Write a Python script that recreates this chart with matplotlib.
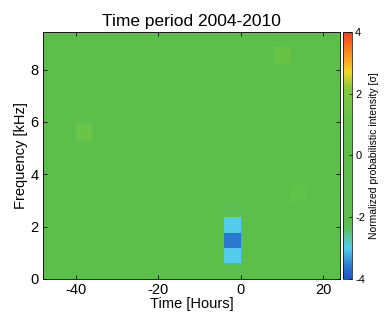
import numpy as np
import matplotlib
matplotlib.use("Agg")
import matplotlib.pyplot as plt
from matplotlib.colors import LinearSegmentedColormap

plt.rcParams['font.family'] = ['Liberation Sans', 'DejaVu Sans']
plt.rcParams['axes.unicode_minus'] = False

# Bin edges
time_edges = np.arange(-48, 25, 4)          # hours, 18 bins
freq_edges = np.linspace(0, 9.44, 17)       # kHz, 16 bins

# Normalized probabilistic intensity [sigma]; rows = frequency bins (bottom->top),
# columns = time bins (-48 .. 24 h)
intensity = np.array([
    # -48 -44 -40 -36 -32 -28 -24 -20 -16 -12  -8  -4   0   4   8  12  16  20
    [0.0, 0.0, 0.0, 0.0, 0.0, 0.0, 0.0, 0.0, 0.0, 0.0, 0.0, 0.0, 0.0, 0.0, 0.0, 0.0, 0.0, 0.0],
    [0.0, 0.0, 0.0, 0.0, 0.0, 0.0, 0.0, 0.0, 0.0, 0.0, 0.0, -3.0, 0.0, 0.0, 0.0, 0.0, 0.0, 0.0],
    [0.0, 0.0, 0.0, 0.0, 0.0, 0.0, 0.0, 0.0, 0.0, 0.0, 0.0, -3.6, 0.0, 0.0, 0.0, 0.0, 0.0, 0.0],
    [0.0, 0.0, 0.0, 0.0, 0.0, 0.0, 0.0, 0.0, 0.0, 0.0, 0.0, -3.0, 0.0, 0.0, 0.0, 0.0, 0.0, 0.0],
    [0.0, 0.0, 0.0, 0.0, 0.0, 0.0, 0.0, 0.0, 0.0, 0.0, 0.0, -2.2, 0.0, 0.0, 0.0, 0.0, 0.0, 0.0],
    [0.0, 0.0, 0.0, 0.0, 0.0, 0.0, 0.0, 0.0, 0.0, 0.0, 0.0, 0.0, 0.0, 0.0, 0.0, 0.6, 0.0, 0.0],
    [0.0, 0.0, 0.0, 0.0, 0.0, 0.0, 0.0, 0.0, 0.0, 0.0, 0.0, 0.0, 0.0, 0.0, 0.0, 0.0, 0.0, 0.0],
    [0.0, 0.0, 0.0, 0.0, 0.0, 0.0, 0.0, 0.0, 0.0, 0.0, 0.0, 0.0, 0.0, 0.0, 0.0, 0.0, 0.0, 0.0],
    [0.0, 0.0, 0.0, 0.0, 0.0, 0.0, 0.0, 0.0, 0.0, 0.0, 0.0, 0.0, 0.0, 0.0, 0.0, 0.0, 0.0, 0.0],
    [0.0, 0.0, 1.3, 0.0, 0.0, 0.0, 0.0, 0.0, 0.0, 0.0, 0.0, 0.0, 0.0, 0.0, 0.0, 0.0, 0.0, 0.0],
    [0.0, 0.0, 0.0, 0.0, 0.0, 0.0, 0.0, 0.0, 0.0, 0.0, 0.0, 0.0, 0.0, 0.0, 0.0, 0.0, 0.0, 0.0],
    [0.0, 0.0, 0.0, 0.0, 0.0, 0.0, 0.0, 0.0, 0.0, 0.0, 0.0, 0.0, 0.0, 0.0, 0.0, 0.0, 0.0, 0.0],
    [0.0, 0.0, 0.0, 0.0, 0.0, 0.0, 0.0, 0.0, 0.0, 0.0, 0.0, 0.0, 0.0, 0.0, 0.0, 0.0, 0.0, 0.0],
    [0.0, 0.0, 0.0, 0.0, 0.0, 0.0, 0.0, 0.0, 0.0, 0.0, 0.0, 0.0, 0.0, 0.0, 0.0, 0.0, 0.0, 0.0],
    [0.0, 0.0, 0.0, 0.0, 0.0, 0.0, 0.0, 0.0, 0.0, 0.0, 0.0, 0.0, 0.0, 0.0, 1.2, 0.0, 0.0, 0.0],
    [0.0, 0.0, 0.0, 0.0, 0.0, 0.0, 0.0, 0.0, 0.0, 0.0, 0.0, 0.0, 0.0, 0.0, 0.0, 0.0, 0.0, 0.0],
])

x_ticks = [-40, -20, 0, 20]
y_ticks = [0, 2, 4, 6, 8]
cbar_ticks = [-4, -2, 0, 2, 4]

vmin, vmax = -4, 4
nodes = [
    (-4.0, (0.13, 0.33, 0.75)),
    (-3.6, (0.17, 0.48, 0.82)),
    (-3.0, (0.33, 0.80, 0.93)),
    (-2.3, (0.36, 0.74, 0.32)),
    (0.0, (0.36, 0.75, 0.29)),
    (1.0, (0.38, 0.76, 0.28)),
    (2.2, (0.52, 0.79, 0.25)),
    (2.7, (0.93, 0.85, 0.15)),
    (3.3, (0.99, 0.55, 0.12)),
    (4.0, (0.97, 0.25, 0.13)),
]
cmap = LinearSegmentedColormap.from_list(
    "custom", [((v - vmin) / (vmax - vmin), c) for v, c in nodes])

fig = plt.figure(figsize=(3.89, 3.22), dpi=100)
ax = fig.add_axes([0.11, 0.134, 0.764, 0.767])
mesh = ax.pcolormesh(time_edges, freq_edges, intensity, cmap=cmap,
                     vmin=vmin, vmax=vmax, shading='flat')
ax.set_xlim(-48, 24)
ax.set_ylim(0, 9.44)
ax.set_xticks(x_ticks)
ax.set_yticks(y_ticks)
ax.tick_params(direction='in', length=3, width=0.6, labelsize=10.5,
               top=True, right=True, pad=3)
for s in ax.spines.values():
    s.set_linewidth(0.6)
ax.set_xlabel('Time [Hours]', fontsize=10.5, labelpad=0)
ax.set_ylabel('Frequency [kHz]', fontsize=10.5, labelpad=2)
ax.set_title('Time period 2004-2010', fontsize=12.5, pad=4)

cax = fig.add_axes([0.882, 0.134, 0.024, 0.767])
cb = fig.colorbar(mesh, cax=cax, ticks=cbar_ticks)
cb.outline.set_linewidth(0.5)
cax.tick_params(direction='in', length=2, width=0.5, labelsize=8, pad=2)
cb.set_label('Normalized probabilistic intensity [σ]', fontsize=7.5, labelpad=3)

fig.savefig('out.png', dpi=100)
